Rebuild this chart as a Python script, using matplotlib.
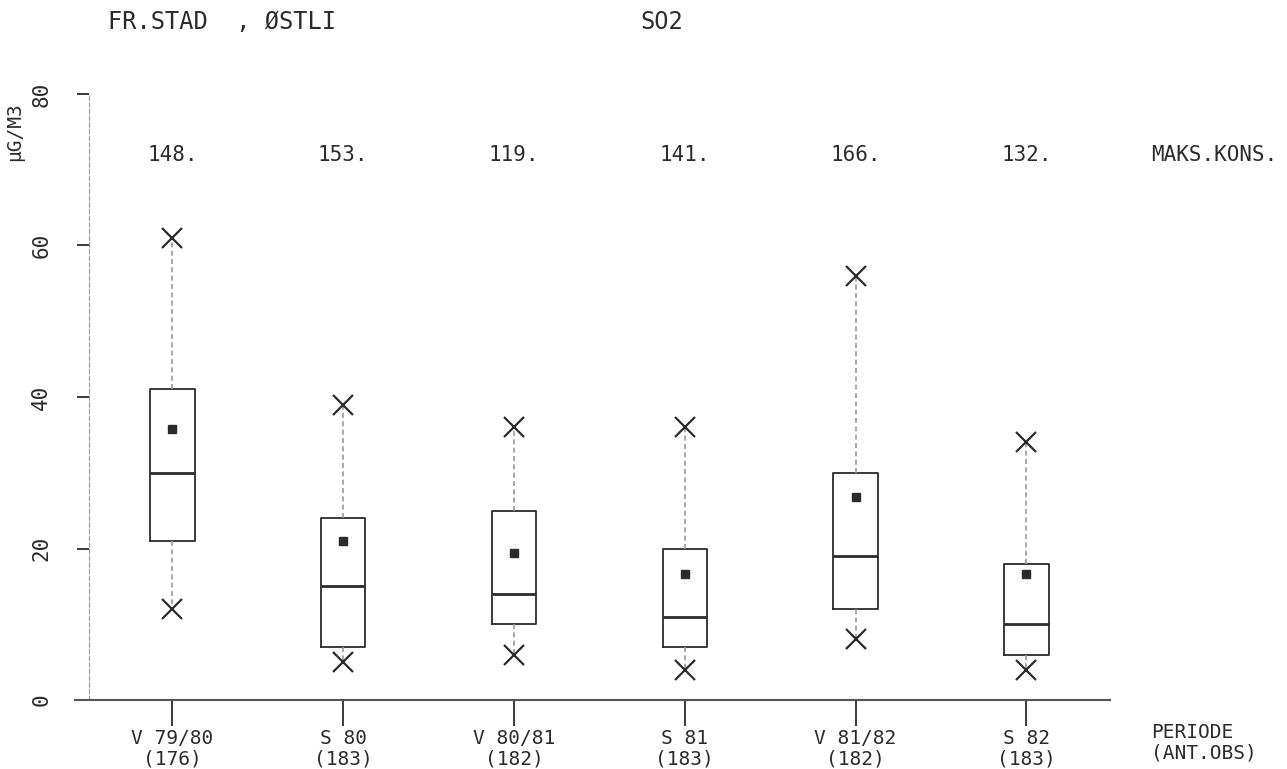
"""
Recreate the FR.STAD / ØSTLI SO2 box plot (old plotter style).
"""
import matplotlib
matplotlib.use("Agg")
import matplotlib.pyplot as plt
from matplotlib.transforms import blended_transform_factory

INK = "#2b2b2b"
GREY = "#9a9a9a"
FONT = "DejaVu Sans Mono"

# ---------- data ----------
periods = ["V 79/80", "S 80", "V 80/81", "S 81", "V 81/82", "S 82"]
n_obs = [176, 183, 182, 183, 182, 183]
q1 = [21, 7, 10, 7, 12, 6]
median = [30, 15, 14, 11, 19, 10]
q3 = [41, 24, 25, 20, 30, 18]
mean = [35.8, 21, 19.4, 16.6, 26.8, 16.6]
low = [12, 5, 6, 4, 8, 4]
high = [61, 39, 36, 36, 56, 34]
max_conc = ["148.", "153.", "119.", "141.", "166.", "132."]

plt.rcParams["font.family"] = [FONT, "DejaVu Sans"]

fig = plt.figure(figsize=(12.87, 7.69), dpi=100)
ax = fig.add_axes([75 / 1287, 1 - 700 / 769, (1110 - 75) / 1287, 606 / 769])

pos = list(range(1, len(periods) + 1))
stats = [dict(med=m, q1=a, q3=b, whislo=lo, whishi=hi, mean=mu, fliers=[])
         for m, a, b, lo, hi, mu in zip(median, q1, q3, low, high, mean)]
ax.bxp(stats, positions=pos, widths=0.26, showcaps=False, showmeans=True,
       showfliers=False,
       boxprops=dict(color=INK, lw=1.3),
       medianprops=dict(color=INK, lw=2),
       whiskerprops=dict(color=GREY, lw=1.2, ls=(0, (3, 2))),
       meanprops=dict(marker="s", markersize=6, markerfacecolor=INK,
                      markeredgecolor=INK))
# whisker ends drawn as crosses
ax.plot(pos, high, ls="none", marker="x", ms=14, mew=1.6, color=INK)
ax.plot(pos, low, ls="none", marker="x", ms=14, mew=1.6, color=INK)

# max concentration row
for x, txt in zip(pos, max_conc):
    ax.text(x, 72, txt, ha="center", va="center", fontsize=15, color=INK)
ax.text(6.73, 72, "MAKS.KONS.", ha="left", va="center", fontsize=15,
        color=INK, clip_on=False)

# axes styling
ax.set_xlim(0.43, 6.49)
ax.set_ylim(0, 80)
for s in ("top", "right"):
    ax.spines[s].set_visible(False)
ax.spines["left"].set_position(("data", 0.51))
ax.spines["left"].set_color(GREY)
ax.spines["left"].set_linestyle((0, (4, 2)))
ax.spines["bottom"].set_color("#555555")
ax.spines["bottom"].set_linewidth(1.5)

ax.set_yticks([0, 20, 40, 60, 80])
ax.tick_params(axis="y", length=9, width=1.3, color=INK, pad=18,
               labelrotation=90, labelsize=15, labelcolor=INK)
for lab in ax.get_yticklabels():
    lab.set_verticalalignment("center")

ax.set_xticks(pos)
ax.set_xticklabels([f"{p}\n({n})" for p, n in zip(periods, n_obs)],
                   fontsize=14, color=INK, linespacing=1.1)
ax.tick_params(axis="x", length=19, width=1.3, color=INK, pad=2)

tr = blended_transform_factory(ax.transData, ax.transAxes)
ax.text(6.73, -0.0375, "PERIODE\n(ANT.OBS)", transform=tr, ha="left",
        va="top", fontsize=14, color=INK, linespacing=1.1, clip_on=False)

# titles
fig.text(108 / 1287, 1 - 22 / 769, "FR.STAD  , ØSTLI", fontsize=17,
         color=INK, va="center", ha="left")
fig.text(640 / 1287, 1 - 22 / 769, "SO2", fontsize=17, color=INK,
         va="center", ha="left")
fig.text(15 / 1287, 1 - 132 / 769, "µG/M3", rotation=90, fontsize=14,
         color=INK, va="center", ha="center")

fig.savefig("out.png", dpi=100)
